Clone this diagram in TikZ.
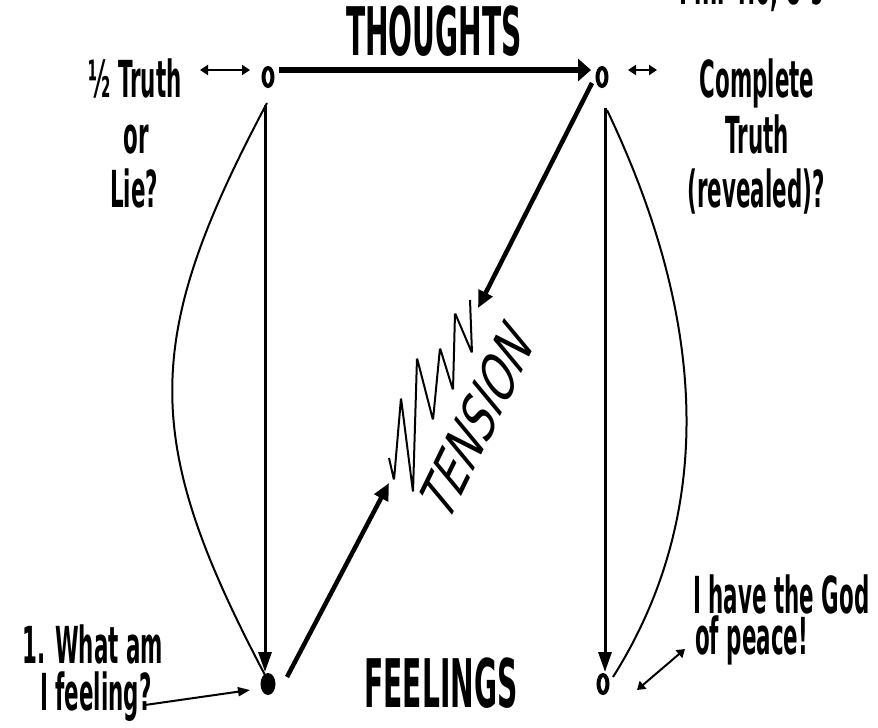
\documentclass[tikz,border=0pt]{standalone}
\usepackage{fontspec}
\usetikzlibrary{arrows.meta,shapes.geometric}
\newfontfamily\cond{DejaVu Sans}[FakeStretch=0.42]
\newfontfamily\tensfont{DejaVu Sans}[FakeSlant=0.55]
\begin{document}
\begin{tikzpicture}[x=1pt,y=-1pt,
  dotopen/.style={ellipse,draw,line width=4pt,minimum width=9pt,minimum height=18pt,inner sep=0pt,fill=white},
  dotfill/.style={ellipse,fill=black,minimum width=15pt,minimum height=22pt,inner sep=0pt},
  lbl/.style={font=\cond\bfseries\fontsize{51}{55}\selectfont,anchor=base,inner sep=0pt},
  ttl/.style={font=\cond\bfseries\fontsize{67}{67}\selectfont,anchor=base,inner sep=0pt},
  bigarrow/.style={line width=6pt,-{Triangle[length=13pt,width=22pt]}},
  midarrow/.style={line width=4.5pt,-{Triangle[length=17pt,width=15pt]}},
  vertarrow/.style={line width=3pt,-{Triangle[length=20pt,width=13pt]}},
  smallboth/.style={line width=2pt,{Triangle[length=8pt,width=10pt]}-{Triangle[length=8pt,width=10pt]}},
  smallone/.style={line width=2pt,-{Triangle[length=12pt,width=9pt]}},
  curve/.style={line width=2pt},
  zig/.style={line width=2pt,rounded corners=1.5pt}
]
\useasboundingbox (0,0) rectangle (878,728);
\clip (0,0) rectangle (878,728);

% dots
\node[dotopen] (TL) at (268,77) {};
\node[dotopen] (TR) at (602,77) {};
\node[dotfill] (BL) at (268,684) {};
\node[dotopen] (BR) at (603,684) {};

% titles
\node[ttl] (thoughts) at (434,55) {THOUGHTS};
\node[ttl] (feelings) at (441,707) {FEELINGS};

% left labels
\node[lbl] (lblLa) at (135,97) {½ Truth};
\node[lbl] (lblLb) at (136,153) {or};
\node[lbl] (lblLc) at (134,207) {Lie?};
% right labels
\node[lbl] (lblRa) at (757,97) {Complete};
\node[lbl] (lblRb) at (757,153) {Truth};
\node[lbl] (lblRc) at (756,207) {(revealed)?};
% top right reference (cut by the frame)
\node[lbl] (phil) at (752,5) {Phil 4:6, 8-9};
% bottom labels
\node[lbl,anchor=base west] (feelA) at (22,663) {1. What am};
\node[lbl,anchor=base west] (feelB) at (40,710) {I feeling?};
\node[lbl,anchor=base west] (peaceA) at (693,613) {I have the God};
\node[lbl,anchor=base west] (peaceB) at (695,654) {of peace!};

% TENSION
\node[font=\tensfont\fontsize{54}{54}\selectfont,rotate=64,inner sep=0pt] (tension) at (473,428) {\scalebox{0.82}[1]{TENSION}};

% coordinates for connector ends
\coordinate (tlA) at (200,70);
\coordinate (tlB) at (250,70);
\coordinate (trA) at (628,70);
\coordinate (trB) at (657,70);
\coordinate (tenTop) at (478,308);
\coordinate (tenBot) at (389,483);
\coordinate (feelEnd) at (145,705);
\coordinate (peaceA1) at (637,690);
\coordinate (peaceB1) at (685,649);

% main connectors
\draw[bigarrow] ([xshift=11pt,yshift=7pt]TL.center) -- ([xshift=-11pt,yshift=7pt]TR.center);
\draw[vertarrow] ([xshift=-3pt,yshift=-28pt]TL.center) -- ([xshift=-3pt,yshift=12pt]BL.center);
\draw[vertarrow] ([xshift=3pt,yshift=-31pt]TR.center) -- ([xshift=2pt,yshift=12pt]BR.center);
\draw[midarrow] ([xshift=-10pt,yshift=-6pt]TR.center) -- (tenTop);
\draw[midarrow] ([xshift=19pt,yshift=7pt]BL.center) -- (tenBot);

% lens curves
\draw[curve] ([xshift=-1pt,yshift=-26pt]TL.center) .. controls (141,340) and (141,440) .. ([xshift=-3pt,yshift=9pt]BL.center);
\draw[curve] ([xshift=5pt,yshift=-33pt]TR.center) .. controls (712,330) and (712,520) .. ([xshift=10pt,yshift=7pt]BR.center);

% small arrows
\draw[smallboth] (tlA) -- (tlB);
\draw[smallboth] (trA) -- (trB);
\draw[smallone] (feelEnd) -- ([xshift=-18pt,yshift=-6pt]BL.center);
\draw[smallboth] (peaceA1) -- (peaceB1);

% zigzag
\draw[zig] (389,458) -- (394,480) -- (401,398) -- (413,492) -- (417,358) -- (433,420) -- (440,348) -- (453,390) -- (455,313) -- (472,353) -- (470,300);
\end{tikzpicture}
\end{document}
